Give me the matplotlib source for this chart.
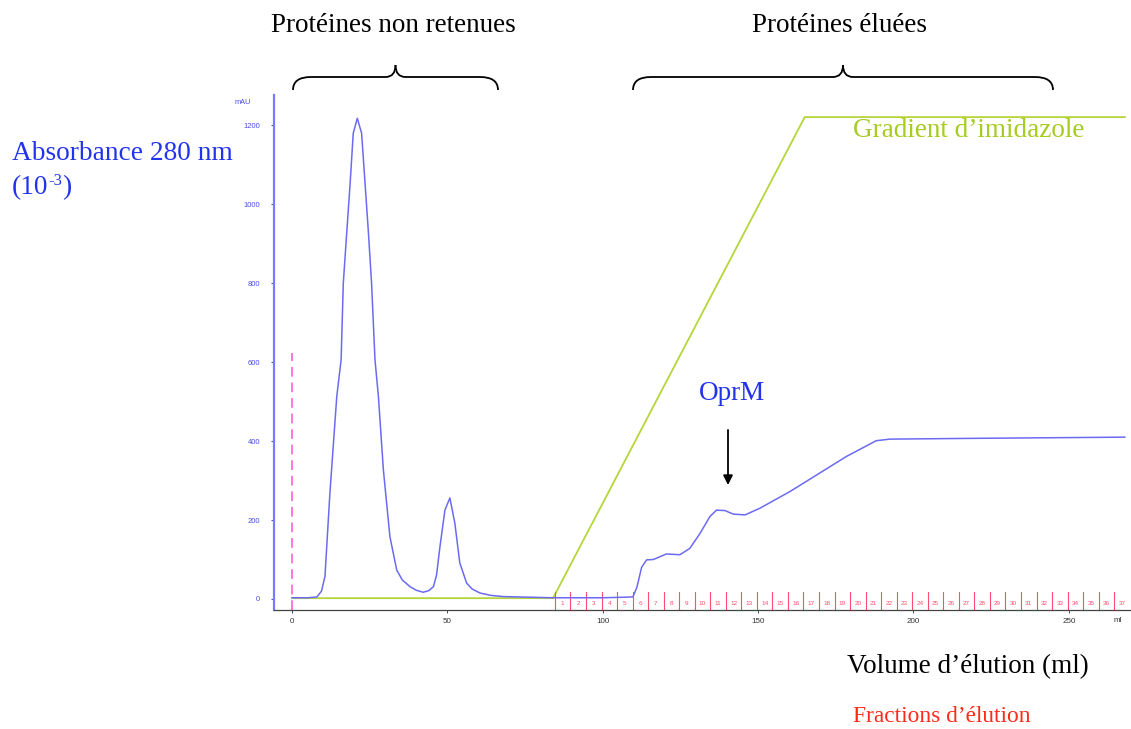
import matplotlib
matplotlib.use("Agg")
import matplotlib.pyplot as plt
from matplotlib.path import Path
from matplotlib.patches import PathPatch

# --- DATA ---
# UV trace (mAU) vs elution volume (ml)
volume = [0, 5, 8, 9.5, 10.6, 12.2, 14.4, 15.8, 16.5, 17.6, 18.7, 19.7, 21.0, 22.4,
          23.5, 24.6, 25.6, 26.7, 27.8, 29.4, 31.5, 33.7, 35.5, 38, 40, 42.2, 44,
          45.5, 46.5, 47.6, 49.2, 50.8, 52.4, 54, 56.2, 58, 60.5, 64, 68, 84, 100,
          109.7, 111, 112.5, 114.1, 116.3, 120.5, 124.8, 128, 131.3, 134.5, 136.6,
          139.3, 142, 145.8, 150.6, 160.2, 168.8, 178.4, 188, 192.4, 220, 268]
absorbance = [3, 3, 5, 20, 57, 269, 513, 606, 800, 927, 1053, 1180, 1218, 1180,
              1053, 927, 800, 606, 513, 327, 158, 73, 48, 31, 22, 17, 21,
              31, 60, 132, 225, 256, 192, 91, 40, 25, 15, 9, 6, 3, 3,
              5, 30, 80, 99, 100, 114, 112, 128, 166, 209, 225,
              224, 215, 213, 230, 272, 314, 361, 401, 405, 407, 410]

# imidazole gradient (drawn on the same scale)
grad_volume = [0, 84, 165, 268]
grad_level = [2, 2, 1221, 1221]

# fractions (5 ml each)
frac_start = 84.6
frac_size = 5
n_frac = 37

yticks = [0, 200, 400, 600, 800, 1000, 1200]
xticks = [0, 50, 100, 150, 200, 250]

W, H = 1131, 729
fig = plt.figure(figsize=(W / 100, H / 100), dpi=100)

# main axes, placed in pixels
ax = fig.add_axes([274 / W, 1 - 610 / H, (W - 274) / W, (610 - 95) / H])
ax.set_xlim(-5.8, 270)
ax.set_ylim(-28, 1277)

ax.plot(volume, absorbance, color="#6b6bf2", lw=1.1, zorder=3)
ax.plot(grad_volume, grad_level, color="#b4d63a", lw=1.3, zorder=2)
ax.plot([0, 0], [-28, 623], color="#ff77dd", lw=1.4, ls=(0, (5, 3)), zorder=1)

# fraction marks
for i in range(n_frac):
    v = frac_start + i * frac_size
    ax.plot([v, v], [-28, 18], color="#ff4d6d", lw=0.8, clip_on=False)
    ax.text(v + frac_size / 2, -12, str(i + 1), color="#ff4d6d", fontsize=4.6,
            ha="center", va="center", family="Liberation Sans", clip_on=False)

for s in ["top", "right"]:
    ax.spines[s].set_visible(False)
ax.spines["left"].set_color("#7a7aff")
ax.spines["left"].set_linewidth(1.6)
ax.spines["bottom"].set_color("#444444")
ax.spines["bottom"].set_linewidth(0.9)

ax.set_yticks(yticks)
ax.set_yticklabels([str(t) for t in yticks])
ax.tick_params(axis="y", colors="#4a4ae6", labelsize=5.5, length=2, width=0.8, pad=8)
ax.set_xticks(xticks)
ax.set_xticklabels([str(t) for t in xticks])
ax.tick_params(axis="x", colors="#333333", labelsize=5.8, length=2, width=0.6, pad=4)
for lab in ax.get_xticklabels() + ax.get_yticklabels():
    lab.set_family("Liberation Sans")

# overlay in pixel coordinates for the annotations
ov = fig.add_axes([0, 0, 1, 1], zorder=5)
ov.set_xlim(0, W)
ov.set_ylim(H, 0)
ov.axis("off")
ov.patch.set_alpha(0)

serif = "Liberation Serif"
blue = "#2233ee"
ov.text(243, 102, "mAU", color="#4a4ae6", fontsize=5.3, ha="center", va="center",
        family="Liberation Sans")
ov.text(1118, 620, "ml", color="#333333", fontsize=5.8, ha="center", va="center",
        family="Liberation Sans")

ov.text(393, 25, "Protéines non retenues", fontsize=19.5, family=serif,
        ha="center", va="center", color="black")
ov.text(840, 25, "Protéines éluées", fontsize=19.5, family=serif,
        ha="center", va="center", color="black")
ov.text(12, 153, "Absorbance 280 nm", fontsize=19.7, family=serif,
        ha="left", va="center", color=blue)
ov.text(853, 130, "Gradient d’imidazole", fontsize=19.5, family=serif,
        ha="left", va="center", color="#a6cc22")
ov.text(732, 393, "OprM", fontsize=19.5, family=serif,
        ha="center", va="center", color=blue)
ov.text(847, 667, "Volume d’élution (ml)", fontsize=19.5, family=serif,
        ha="left", va="center", color="black")
ov.text(853, 717, "Fractions d’élution", fontsize=16.8, family=serif,
        ha="left", va="center", color="#ff2a1a")

# "(10-3)" with a small superscript, built piece by piece
renderer = fig.canvas.get_renderer()
t1 = ov.text(12, 188, "(10", fontsize=19.7, family=serif, ha="left", va="center", color=blue)
x_px = t1.get_window_extent(renderer).x1
t2 = ov.text(x_px, 181, "-3", fontsize=12, family=serif, ha="left", va="center", color=blue)
x_px = t2.get_window_extent(renderer).x1
ov.text(x_px, 188, ")", fontsize=19.7, family=serif, ha="left", va="center", color=blue)

ov.annotate("", xy=(728, 485), xytext=(728, 430),
            arrowprops=dict(arrowstyle="-|>", color="black", lw=1.3,
                            mutation_scale=14, shrinkA=0, shrinkB=0))


def brace(x0, x1, yb, yt):
    xm = (x0 + x1) / 2
    yh = yt + 12
    r = 18
    for xa, sgn in [(x0, 1), (x1, -1)]:
        verts = [(xa, yb), (xa, yh), (xa + sgn * r, yh),
                 (xm - sgn * 10, yh), (xm, yh), (xm, yt)]
        codes = [Path.MOVETO, Path.CURVE3, Path.CURVE3,
                 Path.LINETO, Path.CURVE3, Path.CURVE3]
        ov.add_patch(PathPatch(Path(verts, codes), fc="none", ec="black", lw=1.3))


brace(293, 498, 90, 65)
brace(633, 1053, 90, 65)

fig.savefig("out.png", dpi=100)
